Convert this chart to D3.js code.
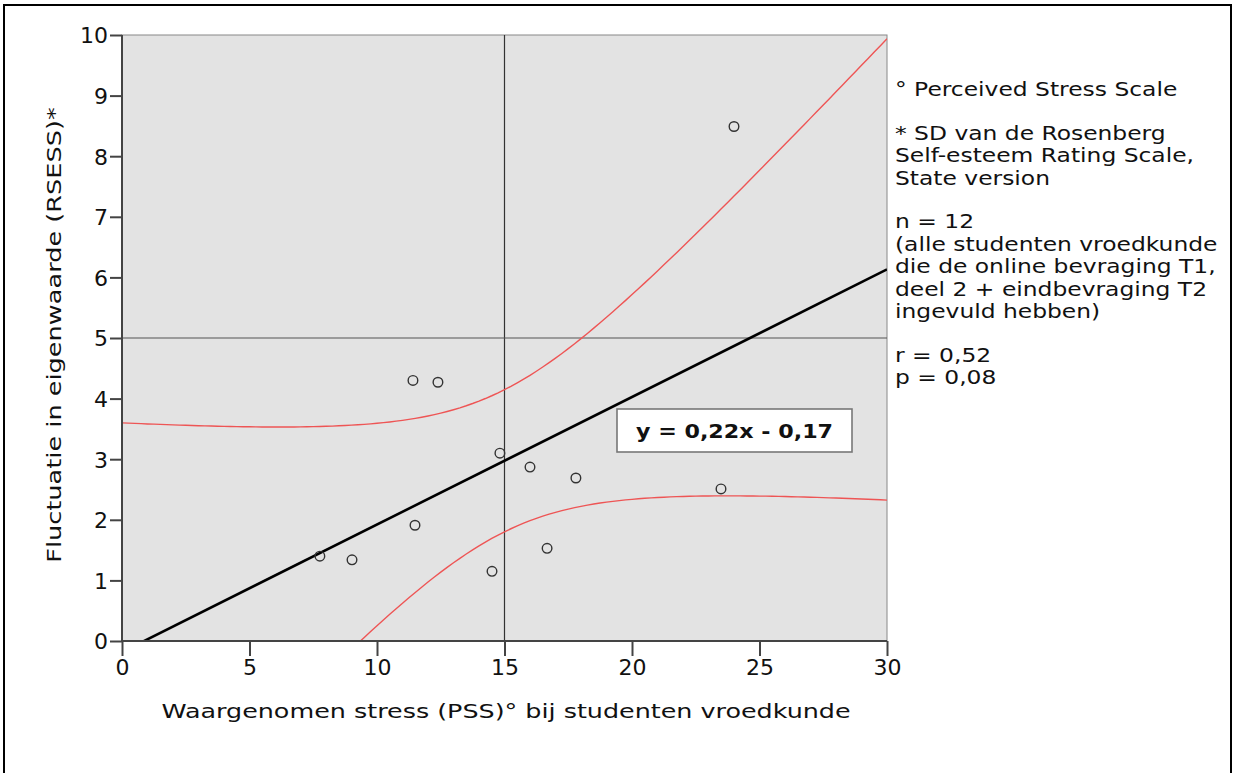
<!DOCTYPE html>
<html>
<head>
<meta charset="utf-8">
<script src="https://cdn.jsdelivr.net/npm/d3@7"></script>
<style>
  body { margin: 0; background: #fff; }
  svg text { font-family: "DejaVu Sans", Verdana, sans-serif; fill: #111; }
</style>
</head>
<body>
<svg id="chart" width="1236" height="773"></svg>
<script>
// PSS score (x) and SD of RSESS (y), one per student
var pss = [7.76, 9.02, 11.41, 12.39, 11.49, 14.51, 14.82, 16.0, 16.67, 17.8, 23.49, 24.0];
var rsess = [1.40, 1.34, 4.30, 4.27, 1.91, 1.15, 3.10, 2.87, 1.53, 2.69, 2.51, 8.49];

var xTicks = [0, 5, 10, 15, 20, 25, 30];
var yTicks = [0, 1, 2, 3, 4, 5, 6, 7, 8, 9, 10];
var refX = 15, refY = 5;

var notes = [
  ["° Perceived Stress Scale"],
  ["* SD van de Rosenberg", "Self-esteem Rating Scale,", "State version"],
  ["n = 12", "(alle studenten vroedkunde", "die de online bevraging T1,", "deel 2 + eindbevraging T2", "ingevuld hebben)"],
  ["r = 0,52", "p = 0,08"]
];
var equation = "y = 0,22x - 0,17";
var xTitle = "Waargenomen stress (PSS)° bij studenten vroedkunde";
var yTitle = "Fluctuatie in eigenwaarde (RSESS)*";

var margin = {top: 35, left: 122};
var width = 765, height = 606;

var svg = d3.select("#chart");

// outer frame (open at the bottom)
svg.append("path")
  .attr("d", "M4,780 L4,5 L1231,5 L1231,780")
  .attr("fill", "none").attr("stroke", "#000").attr("stroke-width", 2);

var g = svg.append("g").attr("transform", "translate(" + margin.left + "," + margin.top + ")");

var x = d3.scaleLinear().domain([0, 30]).range([0, width]);
var y = d3.scaleLinear().domain([0, 10]).range([height, 0]);

g.append("rect").attr("width", width).attr("height", height)
  .attr("fill", "#e3e3e3").attr("stroke", "#888").attr("stroke-width", 1);

g.append("clipPath").attr("id", "clip")
  .append("rect").attr("width", width).attr("height", height);

// least squares fit + 95% CI of the mean
var n = pss.length;
var mx = d3.mean(pss), my = d3.mean(rsess);
var sxx = d3.sum(pss, function(d) { return (d - mx) * (d - mx); });
var sxy = d3.sum(pss, function(d, i) { return (d - mx) * (rsess[i] - my); });
var b = sxy / sxx, a = my - b * mx;
var sse = d3.sum(pss, function(d, i) { var r = rsess[i] - (a + b * d); return r * r; });
var s = Math.sqrt(sse / (n - 2));
var t = 2.228;
var grid = d3.range(0, 30.01, 0.25);
function half(xv) { return t * s * Math.sqrt(1 / n + (xv - mx) * (xv - mx) / sxx); }

var plot = g.append("g").attr("clip-path", "url(#clip)");

// reference lines
plot.append("line").attr("x1", x(refX)).attr("x2", x(refX)).attr("y1", 0).attr("y2", height)
  .attr("stroke", "#333").attr("stroke-width", 1.2);
plot.append("line").attr("x1", 0).attr("x2", width).attr("y1", y(refY)).attr("y2", y(refY))
  .attr("stroke", "#555").attr("stroke-width", 1.2);

var ciLine = d3.line().x(function(d) { return x(d[0]); }).y(function(d) { return y(d[1]); });
plot.append("path")
  .attr("d", ciLine(grid.map(function(v) { return [v, a + b * v + half(v)]; })))
  .attr("fill", "none").attr("stroke", "#ee5555").attr("stroke-width", 1.4);
plot.append("path")
  .attr("d", ciLine(grid.map(function(v) { return [v, a + b * v - half(v)]; })))
  .attr("fill", "none").attr("stroke", "#ee5555").attr("stroke-width", 1.4);

plot.append("line")
  .attr("x1", x(0)).attr("y1", y(a)).attr("x2", x(30)).attr("y2", y(a + b * 30))
  .attr("stroke", "#000").attr("stroke-width", 2.6);

plot.selectAll("circle.pt")
  .data(pss)
  .enter().append("circle")
  .attr("class", "pt")
  .attr("cx", function(d) { return x(d); })
  .attr("cy", function(d, i) { return y(rsess[i]); })
  .attr("r", 4.8)
  .attr("fill", "none").attr("stroke", "#333").attr("stroke-width", 1.4);

// axes
var xAxis = g.append("g").attr("transform", "translate(0," + height + ")")
  .call(d3.axisBottom(x).tickValues(xTicks).tickSize(15).tickPadding(3).tickFormat(d3.format("d")));
var yAxis = g.append("g")
  .call(d3.axisLeft(y).tickValues(yTicks).tickSize(12).tickPadding(2).tickFormat(d3.format("d")));
[xAxis, yAxis].forEach(function(ax) {
  ax.select(".domain").attr("stroke", "#444").attr("stroke-width", 2);
  ax.selectAll(".tick line").attr("stroke", "#444").attr("stroke-width", 2);
  ax.selectAll(".tick text").style("font-size", "22px").attr("fill", "#111");
});
xAxis.select(".domain").attr("d", "M0,0H" + width);
yAxis.select(".domain").attr("d", "M0," + height + "V0");
yAxis.selectAll(".tick text").attr("dy", "0.36em");

// helper: text widened horizontally, like the source font
function wideText(parent, tx, ty, str, size, sx, rot) {
  return parent.append("text")
    .attr("transform", "translate(" + tx + "," + ty + ")" + (rot ? " rotate(" + rot + ")" : "") + " scale(" + sx + ",1)")
    .style("font-size", size + "px")
    .text(str);
}

// equation box
var box = g.append("g").attr("transform", "translate(" + (617 - margin.left) + "," + (409 - margin.top) + ")");
box.append("rect").attr("width", 235).attr("height", 43)
  .attr("fill", "#fff").attr("stroke", "#777").attr("stroke-width", 1.6);
wideText(box, 117.5, 29, equation, 19, 1.17).attr("text-anchor", "middle").style("font-weight", "bold");

// axis titles
wideText(svg, 506, 718, xTitle, 20, 1.27).attr("text-anchor", "middle");
wideText(svg, 61, 335, yTitle, 20, 1.28, -90).attr("text-anchor", "middle");

// notes on the right
var ny = 96;
var notesG = svg.append("g");
notes.forEach(function(block) {
  block.forEach(function(line) {
    wideText(notesG, 895, ny, line, 20, 1.17);
    ny += 22.5;
  });
  ny += 21;
});
</script>
</body>
</html>
